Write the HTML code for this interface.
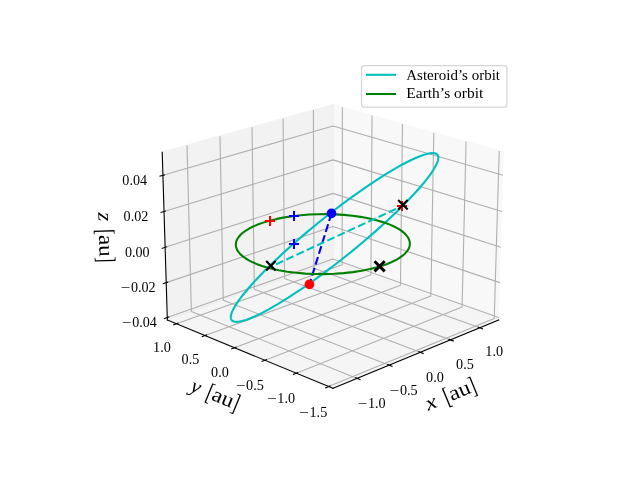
<!DOCTYPE html>
<html lang="en"><head><meta charset="utf-8"><title>Asteroid and Earth orbits</title>
<style>html,body{margin:0;padding:0;background:#fff}body{width:640px;height:480px;overflow:hidden}svg{display:block}</style>
</head><body>
<svg width="640" height="480" viewBox="0 0 460.8 345.6">
 <defs>
  <style type="text/css">*{stroke-linejoin: round; stroke-linecap: butt}</style>
 </defs>
 <g id="figure_1" font-family="'Liberation Serif','DejaVu Serif',serif">
  <g id="patch_1">
   <path d="M 0 345.6 L 460.8 345.6 L 460.8 0 L 0 0 z" style="fill: #ffffff"/>
  </g>
  <g id="patch_2">
   <path d="M 103.1 307.58 L 369.22 307.58 L 369.22 41.47 L 103.1 41.47 z" style="fill: #ffffff"/>
  </g>
  <g id="pane3d_1">
   <g id="patch_3">
    <path d="M 359.02 230.37 L 239.76 188.23 L 239.76 75.28 L 362.72 109.65" style="fill: #f2f2f2; opacity: 0.5; stroke: #f2f2f2; stroke-linejoin: miter"/>
   </g>
  </g>
  <g id="pane3d_2">
   <g id="patch_4">
    <path d="M 120.49 230.37 L 239.76 188.23 L 239.76 75.28 L 116.79 109.65" style="fill: #e6e6e6; opacity: 0.5; stroke: #e6e6e6; stroke-linejoin: miter"/>
   </g>
  </g>
  <g id="pane3d_3">
   <g id="patch_5">
    <path d="M 239.76 279.63 L 359.02 230.37 L 239.76 188.23 L 120.49 230.37" style="fill: #ececec; opacity: 0.5; stroke: #ececec; stroke-linejoin: miter"/>
   </g>
  </g>
  <g id="grid3d_1">
   <g id="Line3DCollection_1">
    <path d="M 257.13 272.45 L 137.78 224.26 L 134.65 104.66" style="fill: none; stroke: #b0b0b0; stroke-width: 0.8"/>
    <path d="M 280.2 262.92 L 160.77 216.14 L 158.38 98.03" style="fill: none; stroke: #b0b0b0; stroke-width: 0.8"/>
    <path d="M 302.57 253.68 L 183.13 208.24 L 181.44 91.58" style="fill: none; stroke: #b0b0b0; stroke-width: 0.8"/>
    <path d="M 324.29 244.71 L 204.87 200.55 L 203.85 85.32" style="fill: none; stroke: #b0b0b0; stroke-width: 0.8"/>
    <path d="M 345.37 236.01 L 226.03 193.08 L 225.63 79.23" style="fill: none; stroke: #b0b0b0; stroke-width: 0.8"/>
   </g>
  </g>
  <g id="grid3d_2">
   <g id="Line3DCollection_2">
    <path d="M 359.43 108.73 L 355.84 229.24 L 236.55 278.31" style="fill: none; stroke: #b0b0b0; stroke-width: 0.8"/>
    <path d="M 335.55 102.06 L 332.71 221.07 L 213.32 268.71" style="fill: none; stroke: #b0b0b0; stroke-width: 0.8"/>
    <path d="M 312.34 95.57 L 310.22 213.13 L 190.78 259.4" style="fill: none; stroke: #b0b0b0; stroke-width: 0.8"/>
    <path d="M 289.79 89.27 L 288.35 205.4 L 168.91 250.37" style="fill: none; stroke: #b0b0b0; stroke-width: 0.8"/>
    <path d="M 267.87 83.14 L 267.07 197.88 L 147.67 241.6" style="fill: none; stroke: #b0b0b0; stroke-width: 0.8"/>
    <path d="M 246.54 77.18 L 246.35 190.56 L 127.05 233.08" style="fill: none; stroke: #b0b0b0; stroke-width: 0.8"/>
   </g>
  </g>
  <g id="grid3d_3">
   <g id="Line3DCollection_3">
    <path d="M 120.43 228.57 L 239.76 186.55 L 359.08 228.57" style="fill: none; stroke: #b0b0b0; stroke-width: 0.8"/>
    <path d="M 119.67 203.48 L 239.76 163.03 L 359.85 203.48" style="fill: none; stroke: #b0b0b0; stroke-width: 0.8"/>
    <path d="M 118.89 178.06 L 239.76 139.22 L 360.63 178.06" style="fill: none; stroke: #b0b0b0; stroke-width: 0.8"/>
    <path d="M 118.1 152.3 L 239.76 115.13 L 361.41 152.3" style="fill: none; stroke: #b0b0b0; stroke-width: 0.8"/>
    <path d="M 117.3 126.21 L 239.76 90.75 L 362.21 126.21" style="fill: none; stroke: #b0b0b0; stroke-width: 0.8"/>
   </g>
  </g>
  <g id="axis3d_1">
   <g id="line2d_1">
    <path d="M 359.02 230.37 L 239.76 279.63" style="fill: none; stroke: #000000; stroke-width: 0.8; stroke-linecap: square"/>
   </g>
   <g id="xtick_1">
    <g id="line2d_2">
     <path d="M 256.1 272.03 L 259.2 273.29" style="fill: none; stroke: #000000; stroke-width: 0.8; stroke-linecap: square"/>
    </g>
    <g id="text_1">
     <text y="294.09" font-size="10"><tspan x="257.57" textLength="6.9" lengthAdjust="spacingAndGlyphs">−</tspan><tspan x="264.91" textLength="12.78" lengthAdjust="spacingAndGlyphs">1.0</tspan></text>
    </g>
   </g>
   <g id="xtick_2">
    <g id="line2d_3">
     <path d="M 279.17 262.52 L 282.27 263.74" style="fill: none; stroke: #000000; stroke-width: 0.8; stroke-linecap: square"/>
    </g>
    <g id="text_2">
     <text y="284.3" font-size="10"><tspan x="280.57" textLength="6.9" lengthAdjust="spacingAndGlyphs">−</tspan><tspan x="287.91" textLength="12.78" lengthAdjust="spacingAndGlyphs">0.5</tspan></text>
    </g>
   </g>
   <g id="xtick_3">
    <g id="line2d_4">
     <path d="M 301.54 253.29 L 304.64 254.47" style="fill: none; stroke: #000000; stroke-width: 0.8; stroke-linecap: square"/>
    </g>
    <g id="text_3">
     <text x="313.17" y="274.8" text-anchor="middle" font-size="10" textLength="12.78" lengthAdjust="spacingAndGlyphs">0.0</text>
    </g>
   </g>
   <g id="xtick_4">
    <g id="line2d_5">
     <path d="M 323.26 244.33 L 326.35 245.48" style="fill: none; stroke: #000000; stroke-width: 0.8; stroke-linecap: square"/>
    </g>
    <g id="text_4">
     <text x="334.81" y="265.58" text-anchor="middle" font-size="10" textLength="12.78" lengthAdjust="spacingAndGlyphs">0.5</text>
    </g>
   </g>
   <g id="xtick_5">
    <g id="line2d_6">
     <path d="M 344.34 235.64 L 347.43 236.75" style="fill: none; stroke: #000000; stroke-width: 0.8; stroke-linecap: square"/>
    </g>
    <g id="text_5">
     <text x="355.82" y="256.64" text-anchor="middle" font-size="10" textLength="12.78" lengthAdjust="spacingAndGlyphs">1.0</text>
    </g>
   </g>
   <g id="text_6">
    <g transform="translate(326.33 288.32) rotate(-22.44)" font-size="15"><text x="-19.55" y="0" font-style="italic" textLength="7.98" lengthAdjust="spacingAndGlyphs">x</text><text transform="translate(-5.30 1.32) scale(0.835 1.208)">[</text><text x="-1.13" y="0" textLength="15.84" lengthAdjust="spacingAndGlyphs">au</text><text transform="translate(14.71 1.32) scale(0.835 1.208)">]</text></g>
   </g>
  </g>
  <g id="axis3d_2">
   <g id="line2d_7">
    <path d="M 120.49 230.37 L 239.76 279.63" style="fill: none; stroke: #000000; stroke-width: 0.8; stroke-linecap: square"/>
   </g>
   <g id="xtick_6">
    <g id="line2d_8">
     <path d="M 237.59 277.88 L 234.48 279.16" style="fill: none; stroke: #000000; stroke-width: 0.8; stroke-linecap: square"/>
    </g>
    <g id="text_7">
     <text y="300.11" font-size="10"><tspan x="215.50" textLength="6.9" lengthAdjust="spacingAndGlyphs">−</tspan><tspan x="222.84" textLength="12.78" lengthAdjust="spacingAndGlyphs">1.5</tspan></text>
    </g>
   </g>
   <g id="xtick_7">
    <g id="line2d_9">
     <path d="M 214.35 268.3 L 211.25 269.54" style="fill: none; stroke: #000000; stroke-width: 0.8; stroke-linecap: square"/>
    </g>
    <g id="text_8">
     <text y="290.24" font-size="10"><tspan x="192.33" textLength="6.9" lengthAdjust="spacingAndGlyphs">−</tspan><tspan x="199.67" textLength="12.78" lengthAdjust="spacingAndGlyphs">1.0</tspan></text>
    </g>
   </g>
   <g id="xtick_8">
    <g id="line2d_10">
     <path d="M 191.82 259 L 188.71 260.2" style="fill: none; stroke: #000000; stroke-width: 0.8; stroke-linecap: square"/>
    </g>
    <g id="text_9">
     <text y="280.68" font-size="10"><tspan x="169.86" textLength="6.9" lengthAdjust="spacingAndGlyphs">−</tspan><tspan x="177.20" textLength="12.78" lengthAdjust="spacingAndGlyphs">0.5</tspan></text>
    </g>
   </g>
   <g id="xtick_9">
    <g id="line2d_11">
     <path d="M 169.94 249.98 L 166.84 251.15" style="fill: none; stroke: #000000; stroke-width: 0.8; stroke-linecap: square"/>
    </g>
    <g id="text_10">
     <text x="158.34" y="271.39" text-anchor="middle" font-size="10" textLength="12.78" lengthAdjust="spacingAndGlyphs">0.0</text>
    </g>
   </g>
   <g id="xtick_10">
    <g id="line2d_12">
     <path d="M 148.7 241.22 L 145.61 242.35" style="fill: none; stroke: #000000; stroke-width: 0.8; stroke-linecap: square"/>
    </g>
    <g id="text_11">
     <text x="137.17" y="262.38" text-anchor="middle" font-size="10" textLength="12.78" lengthAdjust="spacingAndGlyphs">0.5</text>
    </g>
   </g>
   <g id="xtick_11">
    <g id="line2d_13">
     <path d="M 128.08 232.71 L 124.99 233.81" style="fill: none; stroke: #000000; stroke-width: 0.8; stroke-linecap: square"/>
    </g>
    <g id="text_12">
     <text x="116.61" y="253.63" text-anchor="middle" font-size="10" textLength="12.78" lengthAdjust="spacingAndGlyphs">1.0</text>
    </g>
   </g>
   <g id="text_13">
    <g transform="translate(153.18 288.32) rotate(-337.56)" font-size="15"><text x="-18.26" y="0" font-style="italic" textLength="6.84" lengthAdjust="spacingAndGlyphs">y</text><text transform="translate(-5.92 1.32) scale(0.835 1.208)">[</text><text x="-1.75" y="0" textLength="15.84" lengthAdjust="spacingAndGlyphs">au</text><text transform="translate(14.09 1.32) scale(0.835 1.208)">]</text></g>
   </g>
  </g>
  <g id="axis3d_3">
   <g id="line2d_14">
    <path d="M 120.49 230.37 L 116.79 109.65" style="fill: none; stroke: #000000; stroke-width: 0.8; stroke-linecap: square"/>
   </g>
   <g id="xtick_12">
    <g id="line2d_15">
     <path d="M 121.46 228.21 L 118.37 229.3" style="fill: none; stroke: #000000; stroke-width: 0.8; stroke-linecap: square"/>
    </g>
    <g id="text_14">
     <text y="235.51" font-size="10"><tspan x="87.84" textLength="6.9" lengthAdjust="spacingAndGlyphs">−</tspan><tspan x="95.18" textLength="17.78" lengthAdjust="spacingAndGlyphs">0.04</tspan></text>
    </g>
   </g>
   <g id="xtick_13">
    <g id="line2d_16">
     <path d="M 120.7 203.13 L 117.59 204.18" style="fill: none; stroke: #000000; stroke-width: 0.8; stroke-linecap: square"/>
    </g>
    <g id="text_15">
     <text y="210.42" font-size="10"><tspan x="86.95" textLength="6.9" lengthAdjust="spacingAndGlyphs">−</tspan><tspan x="94.29" textLength="17.78" lengthAdjust="spacingAndGlyphs">0.02</tspan></text>
    </g>
   </g>
   <g id="xtick_14">
    <g id="line2d_17">
     <path d="M 119.93 177.72 L 116.8 178.73" style="fill: none; stroke: #000000; stroke-width: 0.8; stroke-linecap: square"/>
    </g>
    <g id="text_16">
     <text x="98.83" y="185" text-anchor="middle" font-size="10" textLength="17.78" lengthAdjust="spacingAndGlyphs">0.00</text>
    </g>
   </g>
   <g id="xtick_15">
    <g id="line2d_18">
     <path d="M 119.15 151.98 L 115.99 152.95" style="fill: none; stroke: #000000; stroke-width: 0.8; stroke-linecap: square"/>
    </g>
    <g id="text_17">
     <text x="97.91" y="159.24" text-anchor="middle" font-size="10" textLength="17.78" lengthAdjust="spacingAndGlyphs">0.02</text>
    </g>
   </g>
   <g id="xtick_16">
    <g id="line2d_19">
     <path d="M 118.36 125.91 L 115.18 126.83" style="fill: none; stroke: #000000; stroke-width: 0.8; stroke-linecap: square"/>
    </g>
    <g id="text_18">
     <text x="96.98" y="133.15" text-anchor="middle" font-size="10" textLength="17.78" lengthAdjust="spacingAndGlyphs">0.04</text>
    </g>
   </g>
   <g id="text_19">
    <g transform="translate(71.38 171.04) rotate(-271.75)" font-size="15"><text x="-18.07" y="0" font-style="italic" textLength="6.49" lengthAdjust="spacingAndGlyphs">z</text><text transform="translate(-6.10 1.32) scale(0.835 1.208)">[</text><text x="-1.93" y="0" textLength="15.84" lengthAdjust="spacingAndGlyphs">au</text><text transform="translate(13.91 1.32) scale(0.835 1.208)">]</text></g>
   </g>
  </g>
  <g id="axes_1">
   <g id="line2d_20">
    <path d="M 192.16 193.38 L 186.42 199.24 L 181.27 204.82 L 176.77 210.05 L 173.67 213.95 L 171.06 217.56 L 168.96 220.85 L 167.75 223.08 L 166.86 225.1 L 166.32 226.88 L 166.14 228.42 L 166.22 229.29 L 166.47 230.04 L 166.9 230.66 L 167.51 231.15 L 168.3 231.49 L 169.28 231.7 L 170.45 231.75 L 171.81 231.64 L 174.23 231.18 L 177.1 230.34 L 180.42 229.1 L 184.19 227.47 L 188.42 225.42 L 193.09 222.96 L 199.97 219.02 L 207.55 214.35 L 215.75 208.97 L 224.48 202.93 L 233.61 196.31 L 242.98 189.19 L 252.45 181.68 L 261.82 173.93 L 270.91 166.06 L 279.54 158.24 L 287.53 150.62 L 293 145.13 L 297.97 139.9 L 302.38 134.99 L 306.18 130.44 L 309.36 126.29 L 311.89 122.59 L 313.77 119.35 L 314.65 117.46 L 315.25 115.79 L 315.57 114.34 L 315.6 113.11 L 315.37 112.1 L 314.87 111.31 L 314.12 110.74 L 313.13 110.37 L 311.91 110.22 L 310.47 110.26 L 308.83 110.5 L 306 111.2 L 302.78 112.29 L 299.21 113.75 L 295.34 115.54 L 289.76 118.41 L 283.79 121.76 L 277.53 125.52 L 271.05 129.65 L 262.74 135.21 L 254.32 141.14 L 245.9 147.33 L 237.56 153.71 L 229.4 160.2 L 219.92 168.05 L 210.9 175.85 L 202.43 183.52 L 195.86 189.74 L 192.16 193.38 L 192.16 193.38" clip-path="url(#p762b3f872f)" style="fill: none; stroke: #00bfbf; stroke-width: 1.5; stroke-linecap: square"/>
   </g>
   <g transform="scale(0.72)"><path d="M331.5 213.4L309.4 284.4" stroke="#0000ff" stroke-width="2.08" stroke-dasharray="8 3.42" fill="none"/></g>
<g id="line2d_21">
    <path d="M 275.23 159.75 L 270.34 158.35 L 265.07 157.14 L 259.49 156.13 L 253.66 155.32 L 247.62 154.72 L 241.45 154.34 L 235.2 154.17 L 228.94 154.22 L 222.71 154.48 L 216.59 154.95 L 210.63 155.64 L 204.87 156.52 L 199.39 157.6 L 194.24 158.86 L 189.45 160.29 L 185.09 161.88 L 182.12 163.17 L 179.44 164.54 L 177.05 165.98 L 174.98 167.47 L 173.24 169.03 L 171.84 170.62 L 170.79 172.25 L 170.3 173.36 L 169.97 174.47 L 169.8 175.59 L 169.81 176.71 L 169.98 177.83 L 170.33 178.95 L 170.84 180.07 L 171.53 181.17 L 172.88 182.81 L 174.61 184.4 L 176.71 185.95 L 179.18 187.44 L 182 188.86 L 185.15 190.21 L 188.63 191.46 L 192.41 192.61 L 196.46 193.66 L 200.77 194.59 L 206.86 195.63 L 213.28 196.44 L 219.94 197.01 L 226.78 197.32 L 233.69 197.36 L 240.6 197.14 L 247.42 196.66 L 254.05 195.93 L 260.41 194.95 L 266.43 193.73 L 270.67 192.68 L 274.63 191.51 L 278.31 190.23 L 281.67 188.86 L 284.68 187.41 L 287.34 185.88 L 289.62 184.29 L 291.51 182.65 L 293.01 180.96 L 293.79 179.83 L 294.39 178.68 L 294.81 177.53 L 295.04 176.37 L 295.1 175.22 L 294.98 174.07 L 294.68 172.93 L 294.21 171.8 L 293.57 170.68 L 292.29 169.04 L 290.65 167.45 L 288.66 165.91 L 286.33 164.44 L 283.68 163.05 L 280.74 161.74 L 277.52 160.51 L 275.23 159.75 L 275.23 159.75" clip-path="url(#p762b3f872f)" style="fill: none; stroke: #008000; stroke-width: 1.5; stroke-linecap: square"/>
   </g>
  </g>
 <g transform="scale(0.72)" id="extras">
<path d="M270.9 266.7L402.5 205.9" stroke="#00bfbf" stroke-width="2.08" stroke-dasharray="7.95 3.35" stroke-dashoffset="5.7" fill="none"/>
<path d="M265.00 221.00H275.00M270.00 216.00V226.00" stroke="#ff0000" stroke-width="2.00" fill="none"/>
<path d="M397.00 206.00H407.00M402.00 201.00V211.00" stroke="#ff0000" stroke-width="2.00" fill="none"/>
<path d="M289.00 216.00H299.00M294.00 211.00V221.00" stroke="#0000ff" stroke-width="2.00" fill="none"/>
<path d="M289.00 244.00H299.00M294.00 239.00V249.00" stroke="#0000ff" stroke-width="2.00" fill="none"/>
<path d="M266.15 261.05L275.65 270.55M266.15 270.55L275.65 261.05" stroke="#000" stroke-width="2.08" fill="none"/>
<path d="M374.50 261.20L384.70 271.40M374.50 271.40L384.70 261.20" stroke="#000" stroke-width="2.90" fill="none"/>
<path d="M398.15 200.05L407.65 209.55M398.15 209.55L407.65 200.05" stroke="#000" stroke-width="2.08" fill="none"/>
<circle cx="331.50" cy="213.40" r="4.86" fill="#0000ff"/>
<circle cx="309.40" cy="284.40" r="4.86" fill="#ff0000"/>
<rect x="361.5" y="65.6" width="145.4" height="41.6" rx="2.8" fill="#fff" stroke="#ccc" stroke-width="1.25" opacity="0.8"/>
<path d="M367 74.8H395" stroke="#00bfbf" stroke-width="2.08" style="stroke-linecap:square"/>
<path d="M367 94H395" stroke="#008000" stroke-width="2.08" style="stroke-linecap:square"/>
<text x="406.3" y="79.7" font-size="13.89" textLength="93.7" lengthAdjust="spacingAndGlyphs">Asteroid’s orbit</text>
<text x="406.3" y="97.9" font-size="13.89" textLength="77" lengthAdjust="spacingAndGlyphs">Earth’s orbit</text>
</g>
</g>
 <defs>
  <clipPath id="p762b3f872f">
   <rect x="103.1" y="41.47" width="266.11" height="266.11"/>
  </clipPath>
 </defs>
</svg>

</body></html>
